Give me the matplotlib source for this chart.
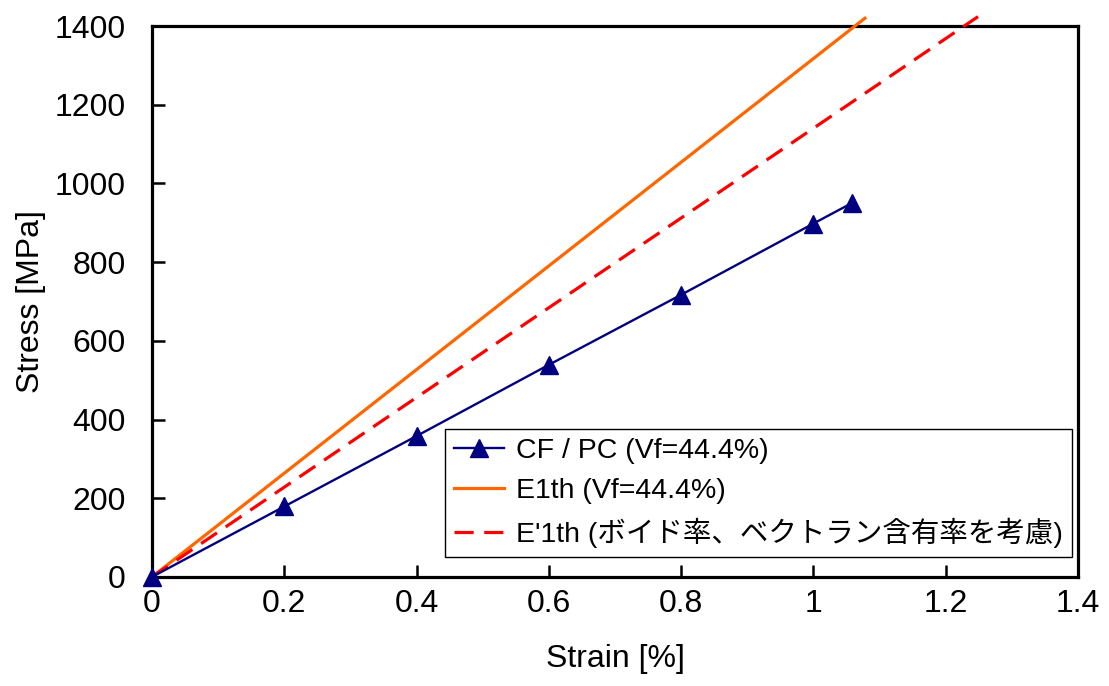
import matplotlib
matplotlib.use("Agg")
import matplotlib.pyplot as plt

# 実測値 (CF/PC, Vf=44.4%)
strain_exp = [0, 0.2, 0.4, 0.6, 0.8, 1.0, 1.058]
stress_exp = [0, 179, 358, 539, 717, 898, 950]

# 理論直線 (複合則)
strain_e1 = [0, 1.078]
stress_e1 = [0, 1420]
strain_e1v = [0, 1.249]
stress_e1v = [0, 1424]

xticks = [0, 0.2, 0.4, 0.6, 0.8, 1.0, 1.2, 1.4]
xticklabels = ["0", "0.2", "0.4", "0.6", "0.8", "1", "1.2", "1.4"]
yticks = [0, 200, 400, 600, 800, 1000, 1200, 1400]

plt.rcParams["font.family"] = ["Liberation Sans", "Noto Sans CJK JP"]

fig = plt.figure(figsize=(11.09, 6.86), dpi=100)
ax = fig.add_axes([0.137, 0.159, 0.835, 0.803])

ax.plot(strain_exp, stress_exp, color="#000080", lw=1.7, marker="^",
        ms=12.5, label="CF / PC (Vf=44.4%)", zorder=4, clip_on=False)
ax.plot(strain_e1, stress_e1, color="#FF6600", lw=2.3,
        label="E1th (Vf=44.4%)", zorder=3, clip_on=False)
ax.plot(strain_e1v, stress_e1v, color="#FF0000", lw=2.3, dashes=(6, 3.3),
        label="E'1th (ボイド率、ベクトラン含有率を考慮)", zorder=3, clip_on=False)

ax.set_xlim(0, 1.4)
ax.set_ylim(0, 1400)
ax.set_xticks(xticks)
ax.set_xticklabels(xticklabels)
ax.set_yticks(yticks)

for s in ax.spines.values():
    s.set_linewidth(2.3)

ax.tick_params(direction="in", length=9, width=1.8, labelsize=23)
ax.tick_params(axis="x", pad=9)
ax.tick_params(axis="y", pad=19)

ax.set_xlabel("Strain [%]", fontsize=23, labelpad=18)
ax.set_ylabel("Stress [MPa]", fontsize=23, labelpad=6)

leg = ax.legend(loc="lower right", bbox_to_anchor=(0.9935, 0.036),
                fancybox=False, edgecolor="black", framealpha=1,
                handlelength=1.75, handletextpad=0.4, labelspacing=0.48,
                borderpad=0.33, borderaxespad=0,
                prop={"family": ["Liberation Sans", "Noto Sans CJK JP"],
                      "size": 20.5})
leg.get_frame().set_linewidth(1.0)

fig.savefig("out.png", dpi=100)
